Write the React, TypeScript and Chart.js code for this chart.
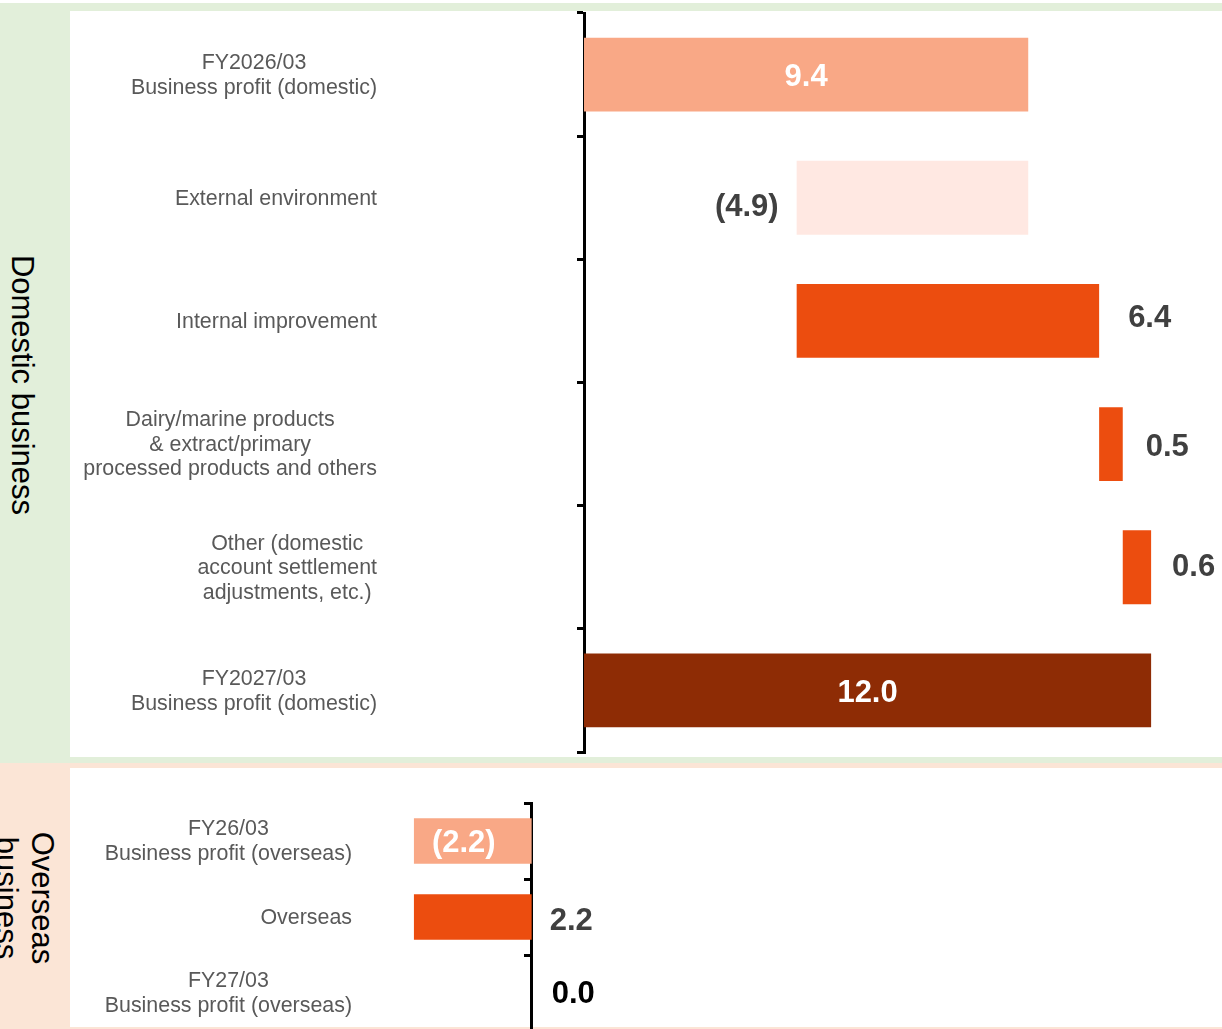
import React, { useEffect, useRef } from 'react';
import { Chart, registerables } from 'chart.js';

Chart.register(...registerables);

// ---------- DATA ----------
const domesticCategories: string[][] = [
  ['FY2026/03', 'Business profit (domestic)'],
  ['External environment'],
  ['Internal improvement'],
  ['Dairy/marine products', '& extract/primary', 'processed products and others'],
  ['Other (domestic', 'account settlement', 'adjustments, etc.)'],
  ['FY2027/03', 'Business profit (domestic)'],
];
const domesticValues = [9.4, -4.9, 6.4, 0.5, 0.6, 12.0];
const domesticKinds = ['total', 'change', 'change', 'change', 'change', 'total'];

const overseasCategories: string[][] = [
  ['FY26/03', 'Business profit (overseas)'],
  ['Overseas'],
  ['FY27/03', 'Business profit (overseas)'],
];
const overseasValues = [-2.2, 2.2, 0.0];
const overseasKinds = ['total', 'change', 'total'];

// ---------- STYLES ----------
const SALMON = '#F9A886';
const PALE = '#FFE8E2';
const ORANGE = '#EC4D0F';
const DARK = '#8E2C05';

const domesticColors = [SALMON, PALE, ORANGE, ORANGE, ORANGE, DARK];
const overseasColors = [SALMON, ORANGE, DARK];

type LabelStyle = { mode: 'inside' | 'left' | 'right'; gap?: number; dx?: number; dy?: number; color: string };

const domesticLabelStyles: LabelStyle[] = [
  { mode: 'inside', color: '#ffffff' },
  { mode: 'left', gap: 18, dy: 7, color: '#404040' },
  { mode: 'right', gap: 29, dy: -5, color: '#404040' },
  { mode: 'right', gap: 23, dy: 0, color: '#404040' },
  { mode: 'right', gap: 21, dy: -3, color: '#404040' },
  { mode: 'inside', color: '#ffffff' },
];
const overseasLabelStyles: LabelStyle[] = [
  { mode: 'inside', dx: -9, dy: -1, color: '#ffffff' },
  { mode: 'right', gap: 18, dy: 1, color: '#404040' },
  { mode: 'right', gap: 20, dy: -2, color: '#000000' },
];

const FONT = '"Liberation Sans", Arial, Helvetica, sans-serif';

function waterfall(values: number[], kinds: string[]): [number, number][] {
  let cum = 0;
  return values.map((v, i) => {
    if (kinds[i] === 'total') {
      cum = v;
      return [0, v];
    }
    const r: [number, number] = [cum, cum + v];
    cum += v;
    return r;
  });
}

function fmt(v: number) {
  return v < 0 ? `(${Math.abs(v).toFixed(1)})` : v.toFixed(1);
}

type Props = {
  left: number;
  top: number;
  width: number;
  height: number;
  categories: string[][];
  values: number[];
  kinds: string[];
  colors: string[];
  labelStyles: LabelStyle[];
  xMin: number;
  xMax: number;
  padding: { left: number; top: number; right: number; bottom: number };
  labelRight: number;
  lineHeight: number;
};

function WaterfallChart(p: Props) {
  const ref = useRef<HTMLCanvasElement>(null);
  useEffect(() => {
    const ranges = waterfall(p.values, p.kinds);
    const labelPlugin = {
      id: 'customLabels',
      afterDatasetsDraw(chart: any) {
        const ctx = chart.ctx as CanvasRenderingContext2D;
        const xs = chart.scales.x;
        const ys = chart.scales.y;
        ctx.save();
        // category labels
        ctx.font = `21.4px ${FONT}`;
        ctx.fillStyle = '#595959';
        ctx.textBaseline = 'middle';
        ctx.textAlign = 'center';
        p.categories.forEach((lines, i) => {
          const y = ys.getPixelForValue(i) + 1;
          const w = Math.max(...lines.map((l) => ctx.measureText(l).width));
          const cx = p.labelRight - w / 2;
          const n = lines.length;
          lines.forEach((l, j) => {
            ctx.fillText(l, cx, y + (j - (n - 1) / 2) * p.lineHeight);
          });
        });
        // value labels
        ctx.font = `bold 31px ${FONT}`;
        ranges.forEach((r, i) => {
          const st = p.labelStyles[i];
          const a = xs.getPixelForValue(Math.min(r[0], r[1]));
          const b = xs.getPixelForValue(Math.max(r[0], r[1]));
          const y = ys.getPixelForValue(i) + 3 + (st.dy || 0);
          let x = 0;
          if (st.mode === 'inside') {
            ctx.textAlign = 'center';
            x = (a + b) / 2;
          } else if (st.mode === 'left') {
            ctx.textAlign = 'right';
            x = a - (st.gap || 0);
          } else {
            ctx.textAlign = 'left';
            x = b + (st.gap || 0);
          }
          x += st.dx || 0;
          ctx.fillStyle = st.color;
          ctx.fillText(fmt(p.values[i]), x, y);
        });
        ctx.restore();
      },
    };

    const chart = new Chart(ref.current as HTMLCanvasElement, {
      type: 'bar',
      data: {
        labels: p.categories.map((c) => c.join(' ')),
        datasets: [
          {
            data: ranges as any,
            backgroundColor: p.colors,
            borderWidth: 0,
            barPercentage: 0.6,
            categoryPercentage: 1.0,
          },
        ],
      },
      options: {
        indexAxis: 'y',
        responsive: false,
        maintainAspectRatio: false,
        animation: false,
        devicePixelRatio: 1,
        layout: { padding: p.padding },
        plugins: { legend: { display: false }, tooltip: { enabled: false } },
        scales: {
          x: { type: 'linear', display: false, min: p.xMin, max: p.xMax, grid: { display: false } },
          y: {
            type: 'category',
            position: { x: 0 } as any,
            offset: true,
            z: 1,
            grid: {
              display: true,
              drawOnChartArea: false,
              drawTicks: true,
              tickLength: 6,
              color: '#000000',
              lineWidth: 3,
              offset: true,
            },
            border: { display: true, color: '#000000', width: 3 },
            ticks: { display: false },
          },
        },
      } as any,
      plugins: [labelPlugin],
    });
    return () => chart.destroy();
  }, []);
  return (
    <canvas
      ref={ref}
      width={p.width}
      height={p.height}
      style={{ position: 'absolute', left: p.left, top: p.top, width: p.width, height: p.height }}
    />
  );
}

export default function App() {
  return (
    <div
      style={{
        position: 'absolute',
        left: 0,
        top: 0,
        width: 1222,
        height: 1029,
        overflow: 'hidden',
        background: '#ffffff',
        fontFamily: FONT,
      }}
    >
      {/* domestic band */}
      <div style={{ position: 'absolute', left: 0, top: 3, width: 1222, height: 760, background: '#E2EFDA' }} />
      <div style={{ position: 'absolute', left: 70, top: 11, width: 1152, height: 746, background: '#ffffff' }} />
      {/* overseas band */}
      <div style={{ position: 'absolute', left: 0, top: 763, width: 1222, height: 266, background: '#FBE5D6' }} />
      <div style={{ position: 'absolute', left: 70, top: 768, width: 1152, height: 259, background: '#ffffff' }} />

      {/* side labels */}
      <div
        style={{
          position: 'absolute',
          left: 22,
          top: 384.5,
          transform: 'translate(-50%, -50%) rotate(90deg)',
          whiteSpace: 'nowrap',
          fontSize: 31,
          lineHeight: '36px',
          color: '#000000',
        }}
      >
        Domestic business
      </div>
      <div
        style={{
          position: 'absolute',
          left: 24,
          top: 898,
          transform: 'translate(-50%, -50%) rotate(90deg)',
          whiteSpace: 'nowrap',
          fontSize: 31,
          lineHeight: '36px',
          color: '#000000',
          textAlign: 'center',
        }}
      >
        Overseas
        <br />
        business
      </div>

      <WaterfallChart
        left={70}
        top={11}
        width={1152}
        height={746}
        categories={domesticCategories}
        values={domesticValues}
        kinds={domesticKinds}
        colors={domesticColors}
        labelStyles={domesticLabelStyles}
        xMin={0}
        xMax={13.5}
        padding={{ left: 514, top: 2, right: 0, bottom: 5 }}
        labelRight={307}
        lineHeight={24.5}
      />
      <WaterfallChart
        left={70}
        top={768}
        width={1152}
        height={268}
        categories={overseasCategories}
        values={overseasValues}
        kinds={overseasKinds}
        colors={overseasColors}
        labelStyles={overseasLabelStyles}
        xMin={-4}
        xMax={12.9}
        padding={{ left: 247.6, top: 35, right: 0, bottom: 5 }}
        labelRight={282}
        lineHeight={25}
      />
    </div>
  );
}
